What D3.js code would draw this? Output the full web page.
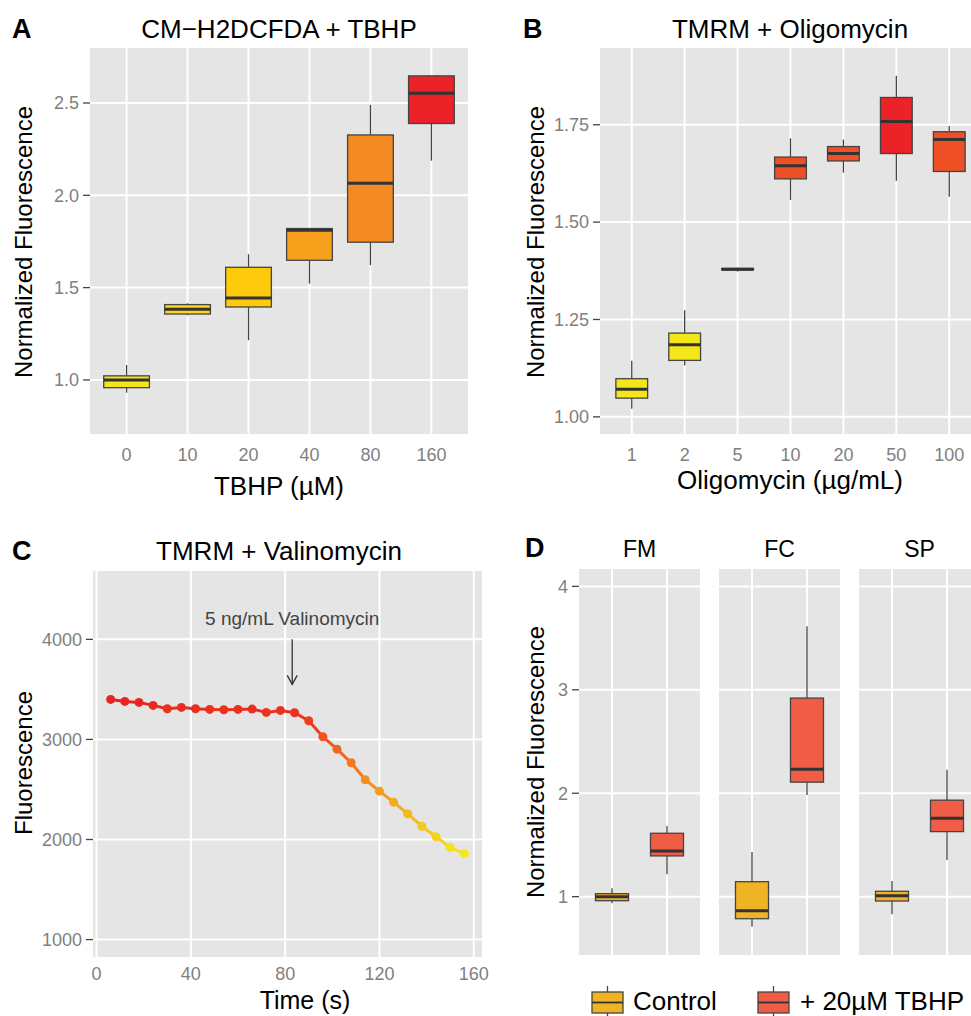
<html>
<head>
<meta charset="utf-8">
<title>Fluorescence panels</title>
<script src="https://cdn.jsdelivr.net/npm/d3@7"></script>
<style>
  body { margin: 0; background: #fff; }
  text { font-family: "Liberation Sans", Arial, Helvetica, sans-serif; }
</style>
</head>
<body>
<div id="chart"></div>
<script>
// ---- data ----------------------------------------------------------
// Panel A: CM-H2DCFDA + TBHP
var catsA = ["0", "10", "20", "40", "80", "160"];
var lowA  = [0.931, 1.350, 1.215, 1.522, 1.621, 2.188];
var q1A   = [0.958, 1.357, 1.395, 1.648, 1.746, 2.389];
var medA  = [1.000, 1.383, 1.444, 1.811, 2.066, 2.553];
var q3A   = [1.022, 1.408, 1.610, 1.820, 2.327, 2.647];
var highA = [1.081, 1.415, 1.681, 1.820, 2.490, 2.647];
var colorsA = ["#f4e61b", "#f9d81b", "#fecb0c", "#f7a11c", "#f48a22", "#eb2227"];
var ticksA = [1.0, 1.5, 2.0, 2.5];

// Panel B: TMRM + Oligomycin
var catsB = ["1", "2", "5", "10", "20", "50", "100"];
var lowB  = [1.021, 1.132, 1.373, 1.557, 1.627, 1.606, 1.565];
var q1B   = [1.048, 1.145, 1.377, 1.611, 1.657, 1.676, 1.630];
var medB  = [1.071, 1.185, 1.379, 1.645, 1.676, 1.758, 1.712];
var q3B   = [1.098, 1.215, 1.381, 1.667, 1.694, 1.820, 1.732];
var highB = [1.144, 1.274, 1.383, 1.715, 1.712, 1.876, 1.747];
var colorsB = ["#f3e619", "#f3e619", "#f5c81c", "#ef4f24", "#ef4f24", "#eb2227", "#ef4f24"];
var ticksB = [1.00, 1.25, 1.50, 1.75];

// Panel C: TMRM + Valinomycin time course
var timeC = [6, 12, 18, 24, 30, 36, 42, 48, 54, 60, 66, 72, 78, 84, 90, 96, 102, 108, 114, 120, 126, 132, 138, 144, 150, 156];
var fluorC = [3400, 3380, 3370, 3340, 3307, 3320, 3307, 3300, 3297, 3300, 3303, 3270, 3290, 3267,
              3187, 3027, 2903, 2767, 2597, 2483, 2373, 2257, 2133, 2027, 1920, 1860];
var ticksCx = [0, 40, 80, 120, 160];
var ticksCy = [1000, 2000, 3000, 4000];
var annotTime = 83;

// Panel D: three cell types, control vs TBHP
var facetsD = ["FM", "FC", "SP"];
var groupsD = ["Control", "+ 20\u00b5M TBHP"];
// order: FM-Control, FM-TBHP, FC-Control, FC-TBHP, SP-Control, SP-TBHP
var lowD  = [0.936, 1.217, 0.710, 1.984, 0.830, 1.355];
var q1D   = [0.961, 1.394, 0.787, 2.107, 0.958, 1.629];
var medD  = [1.000, 1.442, 0.865, 2.233, 1.010, 1.759];
var q3D   = [1.029, 1.613, 1.145, 2.920, 1.052, 1.933];
var highD = [1.081, 1.684, 1.433, 3.614, 1.152, 2.226];
var colorsD = ["#f0b323", "#f05d46"];
var ticksD = [1, 2, 3, 4];

// ---- setup ---------------------------------------------------------
var W = 971, H = 1016;
var panelBg = "#e5e5e5";
var svg = d3.select("#chart").append("svg")
    .attr("width", W).attr("height", H);

function panelRect(g, x0, x1, y0, y1) {
    g.append("rect").attr("x", x0).attr("y", y0)
        .attr("width", x1 - x0).attr("height", y1 - y0)
        .attr("fill", panelBg);
}

// horizontal grid + left ticks + labels
function yAxis(g, y, ticks, fmt, x0, x1, showLabels) {
    ticks.forEach(function(t) {
        g.append("line").attr("x1", x0).attr("x2", x1)
            .attr("y1", y(t)).attr("y2", y(t))
            .attr("stroke", "#fff").attr("stroke-width", 2);
        if (showLabels) {
            g.append("line").attr("x1", x0 - 7).attr("x2", x0)
                .attr("y1", y(t)).attr("y2", y(t))
                .attr("stroke", "#444").attr("stroke-width", 1.3);
            g.append("text").attr("x", x0 - 11).attr("y", y(t))
                .attr("dy", "0.35em").attr("text-anchor", "end")
                .attr("font-size", 18).attr("fill", "#7f7f7f")
                .text(fmt(t));
        }
    });
}

function vGrid(g, xs, y0, y1) {
    xs.forEach(function(xv) {
        g.append("line").attr("x1", xv).attr("x2", xv)
            .attr("y1", y0).attr("y2", y1)
            .attr("stroke", "#fff").attr("stroke-width", 2);
    });
}

// draws one box plot at center cx
function drawBox(g, cx, w, y, lo, q1, md, q3, hi, fill) {
    g.append("line").attr("x1", cx).attr("x2", cx)
        .attr("y1", y(hi)).attr("y2", y(q3))
        .attr("stroke", "#444").attr("stroke-width", 1.3);
    g.append("line").attr("x1", cx).attr("x2", cx)
        .attr("y1", y(q1)).attr("y2", y(lo))
        .attr("stroke", "#444").attr("stroke-width", 1.3);
    g.append("rect").attr("x", cx - w / 2).attr("y", y(q3))
        .attr("width", w).attr("height", Math.max(0, y(q1) - y(q3)))
        .attr("fill", fill).attr("stroke", "#444").attr("stroke-width", 1.3);
    g.append("line").attr("x1", cx - w / 2).attr("x2", cx + w / 2)
        .attr("y1", y(md)).attr("y2", y(md))
        .attr("stroke", "#333").attr("stroke-width", 3);
}

function label(g, txt, x, y, size, opts) {
    opts = opts || {};
    var t = g.append("text").attr("x", x).attr("y", y)
        .attr("font-size", size).attr("fill", opts.fill || "#000")
        .attr("text-anchor", opts.anchor || "middle")
        .text(txt);
    if (opts.bold) t.attr("font-weight", "bold");
    if (opts.rotate) t.attr("transform", "rotate(-90," + x + "," + y + ")");
    return t;
}

// ---- Panel A -------------------------------------------------------
(function() {
    var g = svg.append("g");
    var x0 = 90, x1 = 468, y0 = 48, y1 = 434;
    var x = d3.scalePoint().domain(catsA).range([x0, x1]).padding(0.6);
    var y = d3.scaleLinear().domain([0.707, 2.798]).range([y1, y0]);
    panelRect(g, x0, x1, y0, y1);
    yAxis(g, y, ticksA, d3.format(".1f"), x0, x1, true);
    vGrid(g, catsA.map(function(c) { return x(c); }), y0, y1);
    var bw = x.step() * 0.75;
    catsA.forEach(function(c, i) {
        drawBox(g, x(c), bw, y, lowA[i], q1A[i], medA[i], q3A[i], highA[i], colorsA[i]);
        label(g, c, x(c), 461, 18, { fill: "#7f7f7f" });
    });
    label(g, "A", 12, 38, 27, { bold: true, anchor: "start" });
    label(g, "CM\u2212H2DCFDA + TBHP", 279, 38, 26);
    label(g, "TBHP (\u00b5M)", 279, 495, 26);
    label(g, "Normalized Fluorescence", 32, 242, 24, { rotate: true });
})();

// ---- Panel B -------------------------------------------------------
(function() {
    var g = svg.append("g");
    var x0 = 600, x1 = 981, y0 = 48, y1 = 434;
    var x = d3.scalePoint().domain(catsB).range([x0, x1]).padding(0.6);
    var y = d3.scaleLinear().domain([0.956, 1.947]).range([y1, y0]);
    panelRect(g, x0, x1, y0, y1);
    yAxis(g, y, ticksB, d3.format(".2f"), x0, x1, true);
    vGrid(g, catsB.map(function(c) { return x(c); }), y0, y1);
    var bw = x.step() * 0.6;
    catsB.forEach(function(c, i) {
        drawBox(g, x(c), bw, y, lowB[i], q1B[i], medB[i], q3B[i], highB[i], colorsB[i]);
        label(g, c, x(c), 461, 18, { fill: "#7f7f7f" });
    });
    label(g, "B", 523, 38, 27, { bold: true, anchor: "start" });
    label(g, "TMRM + Oligomycin", 790, 38, 26);
    label(g, "Oligomycin (\u00b5g/mL)", 790, 489, 26);
    label(g, "Normalized Fluorescence", 544, 242, 24, { rotate: true });
})();

// ---- Panel C -------------------------------------------------------
(function() {
    var g = svg.append("g");
    var x0 = 93, x1 = 482, y0 = 571, y1 = 957;
    var x = d3.scaleLinear().domain([-1.5, 163.5]).range([x0, x1]);
    var y = d3.scaleLinear().domain([826, 4683]).range([y1, y0]);
    panelRect(g, x0, x1, y0, y1);
    yAxis(g, y, ticksCy, d3.format("d"), x0, x1, true);
    vGrid(g, ticksCx.map(function(t) { return x(t); }), y0, y1);
    ticksCx.forEach(function(t) {
        label(g, t, x(t), 980, 18, { fill: "#7f7f7f" });
    });
    var col = d3.scaleLinear().domain([1860, 2600, 3400])
        .range(["#f5e81c", "#f4901f", "#e8221f"]);
    for (var i = 0; i < timeC.length - 1; i++) {
        g.append("line")
            .attr("x1", x(timeC[i])).attr("y1", y(fluorC[i]))
            .attr("x2", x(timeC[i + 1])).attr("y2", y(fluorC[i + 1]))
            .attr("stroke", col(fluorC[i])).attr("stroke-width", 3)
            .attr("stroke-linecap", "round");
    }
    g.selectAll("circle.pt").data(timeC).enter().append("circle")
        .attr("class", "pt")
        .attr("cx", function(d) { return x(d); })
        .attr("cy", function(d, i) { return y(fluorC[i]); })
        .attr("r", 4.5)
        .attr("fill", function(d, i) { return col(fluorC[i]); });
    // annotation arrow
    var ax = x(annotTime);
    g.append("line").attr("x1", ax).attr("x2", ax)
        .attr("y1", y(4000)).attr("y2", y(3550))
        .attr("stroke", "#333").attr("stroke-width", 1.3);
    g.append("path")
        .attr("d", "M" + (ax - 5) + "," + (y(3550) - 9) + "L" + ax + "," + y(3550) + "L" + (ax + 5) + "," + (y(3550) - 9))
        .attr("fill", "none").attr("stroke", "#333").attr("stroke-width", 1.3);
    label(g, "5 ng/mL Valinomycin", ax, y(4140), 19, { fill: "#444" });
    label(g, "C", 12, 560, 27, { bold: true, anchor: "start" });
    label(g, "TMRM + Valinomycin", 279, 560, 26);
    label(g, "Time (s)", 305, 1009, 25);
    label(g, "Fluorescence", 32, 763, 24, { rotate: true });
})();

// ---- Panel D -------------------------------------------------------
(function() {
    var g = svg.append("g");
    var y0 = 569, y1 = 955;
    var facetX = [[579, 700], [719, 840], [859, 980]];
    var y = d3.scaleLinear().domain([0.436, 4.168]).range([y1, y0]);
    facetsD.forEach(function(f, fi) {
        var fx0 = facetX[fi][0], fx1 = facetX[fi][1];
        var x = d3.scalePoint().domain(groupsD).range([fx0, fx1]).padding(0.6);
        panelRect(g, fx0, fx1, y0, y1);
        yAxis(g, y, ticksD, d3.format("d"), fx0, fx1, fi === 0);
        vGrid(g, groupsD.map(function(c) { return x(c); }), y0, y1);
        var bw = x.step() * 0.6;
        groupsD.forEach(function(c, gi) {
            var k = fi * 2 + gi;
            drawBox(g, x(c), bw, y, lowD[k], q1D[k], medD[k], q3D[k], highD[k], colorsD[gi]);
        });
        label(g, f, (fx0 + fx1) / 2, 557, 23);
    });
    label(g, "D", 525, 557, 27, { bold: true, anchor: "start" });
    label(g, "Normalized Fluorescence", 544, 762, 24, { rotate: true });

    // legend
    var keyX = [592, 758], textX = [633, 800];
    groupsD.forEach(function(c, gi) {
        var kx = keyX[gi], cx = kx + 15.5;
        g.append("line").attr("x1", cx).attr("x2", cx)
            .attr("y1", 986).attr("y2", 1018)
            .attr("stroke", "#444").attr("stroke-width", 1.3);
        g.append("rect").attr("x", kx).attr("y", 992)
            .attr("width", 31).attr("height", 21)
            .attr("fill", colorsD[gi]).attr("stroke", "#444").attr("stroke-width", 1.3);
        g.append("line").attr("x1", kx).attr("x2", kx + 31)
            .attr("y1", 1002.5).attr("y2", 1002.5)
            .attr("stroke", "#333").attr("stroke-width", 1.8);
        label(g, c, textX[gi], 1010, 26, { anchor: "start" });
    });
})();
</script>
</body>
</html>
